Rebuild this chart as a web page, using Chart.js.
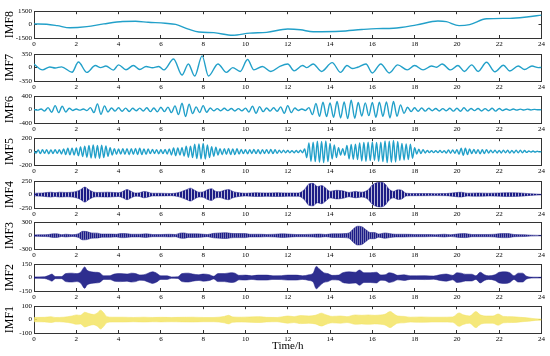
<!DOCTYPE html>
<html>
<head>
<meta charset="utf-8">
<script src="https://cdn.jsdelivr.net/npm/chart.js@4.4.0/dist/chart.umd.min.js"></script>
<style>
  body { margin: 0; background: #fff; }
  #wrap { position: relative; width: 550px; height: 356px; }
  #wrap canvas { position: absolute; left: 0; }
</style>
</head>
<body>
<div id="wrap"></div>
<script>
// --- data ---
const hourTicks = [0, 2, 4, 6, 8, 10, 12, 14, 16, 18, 20, 22, 24];
const panelNames = ["IMF8", "IMF7", "IMF6", "IMF5", "IMF4", "IMF3", "IMF2", "IMF1"];
const panelLimits = [1500, 350, 400, 200, 250, 300, 150, 100];

// IMF8: slow trend (time h, value)
const imf8T = [0, 0.6, 1.1, 1.7, 2.5, 3.3, 4.2, 4.8, 5.4, 6.2, 6.7, 7.3, 7.8, 8.5, 9.4, 10.2, 11, 12, 12.6, 13.2,
  14.5, 15.5, 16.2, 17, 18.1, 19.1, 19.5, 20.1, 20.6, 21.4, 22.5, 23.3, 24];
const imf8V = [80, 40, -120, -360, -230, 80, 350, 370, 260, 150, 20, -500, -830, -900, -1200, -950, -870, -500, -580, -800,
  -750, -550, -450, -410, -30, 400, 330, -110, 0, 650, 700, 850, 1060];

// IMF7: peaks and troughs (time h, value)
const imf7T = [0, 0.4, 0.75, 1.0, 1.3, 1.8, 2.1, 2.5, 2.9, 3.15, 3.4, 3.75, 4.0, 4.35, 4.7, 5.0, 5.3, 5.6, 5.9, 6.15,
  6.6, 7.0, 7.3, 7.6, 7.95, 8.25, 8.7, 9.1, 9.4, 9.75, 10.1, 10.4, 10.8, 11.2, 11.65, 12.0, 12.3, 12.7, 12.9, 13.2,
  13.6, 14.1, 14.5, 14.8, 15.05, 15.3, 15.7, 16.0, 16.4, 16.8, 17.2, 17.65, 18.0, 18.4, 18.8, 19.05, 19.3, 19.7, 20.05, 20.35,
  20.7, 21.0, 21.4, 21.8, 22.2, 22.5, 22.9, 23.2, 23.55, 23.85, 24];
const imf7V = [90, -60, 15, -10, 20, -120, 145, -125, 55, 0, 40, -65, 70, -55, 55, -50, 30, -5, 30, -60,
  225, -195, 95, -220, 305, -220, 95, -125, 0, -100, 210, -60, 30, -100, 40, 95, -85, 55, 0, 95,
  -100, 130, -125, 55, -25, 10, 95, -140, 95, -140, 70, -60, 55, -60, 40, 10, 95, -60, 55, -100,
  70, -100, 140, -110, 60, -90, 40, -50, 40, 0, 5];

// IMF6: successive extremes, evenly spaced over 0..24 h
const imf6V = [
  0, -15, 20, -40, 60, -80, 120, -90, 100, -70, 40, -25,
  20, -15, 20, -30, 60, -90, 170, -140, 110, -70, 50, -45,
  55, -50, 45, -55, 40, -35, 45, -40, 55, -60, 50, -65,
  70, -60, 75, -90, 110, -150, 190, -210, 160, -120, 80, -90,
  120, -80, 50, -35, 30, -35, 40, -30, 35, -40, 30, -35,
  45, -70, 100, -110, 90, -60, 50, -45, 55, -50, 80, -110,
  120, -90, 50, -25, 20, -25, 60, -150, 180, -200, 220, -210,
  200, -230, 240, -250, 230, -270, 280, -260, 210, -190, 200, -180,
  210, -230, 220, -200, 230, -250, 240, -200, 140, -110, 70, -60,
  55, -50, 50, -45, 40, -35, 35, -40, 30, -35, 40, -45,
  40, -50, 55, -45, 35, -30, 35, -40, 30, -35, 40, -45,
  35, -25, 20, -20, 18, -15, 15, -12, 14, -10, 8, -6,
  0];

// IMF5: successive extremes, evenly spaced over 0..24 h
const imf5V = [
  0, -20, 25, -30, 28, -25, 30, -32, 26, -28,
  30, -25, 28, -35, 40, -45, 50, -48, 52, -50,
  55, -60, 70, -75, 80, -85, 90, -95, 100, -95,
  90, -100, 95, -90, 85, -70, 60, -50, 45, -40,
  40, -38, 42, -40, 45, -48, 45, -42, 48, -45,
  50, -45, 40, -42, 38, -30, 32, -28, 30, -32,
  28, -30, 32, -35, 40, -50, 55, -60, 55, -50,
  60, -65, 80, -85, 80, -90, 110, -105, 115, -110,
  120, -110, 100, -90, 75, -70, 65, -50, 45, -48,
  45, -42, 48, -45, 40, -45, 42, -38, 32, -30,
  28, -32, 30, -28, 32, -30, 28, -32, 30, -28,
  30, -28, 32, -30, 28, -26, 22, -18, 20, -18,
  16, -18, 15, -17, 18, -16, 20, -18, 40, -90,
  130, -145, 140, -150, 155, -160, 150, -165, 160, -150,
  120, -110, 100, -90, 60, -50, 45, -55, 90, -110,
  105, -115, 110, -120, 130, -140, 135, -145, 140, -135,
  140, -130, 135, -145, 140, -150, 160, -165, 155, -160,
  165, -155, 150, -130, 120, -125, 115, -120, 110, -100,
  60, -35, 35, -30, 30, -20, 18, -15, 15, -16,
  14, -15, 16, -14, 15, -22, 25, -24, 26, -25,
  30, -40, 50, -55, 50, -45, 40, -30, 32, -28,
  30, -32, 28, -30, 30, -22, 20, -18, 22, -20,
  18, -20, 22, -18, 20, -22, 18, -20, 22, -18,
  20, -18, 16, -12, 10, -8, 8, -7, 6, -4,
  0];

// IMF4..IMF1: too dense to resolve, read as envelope (time h, +/- amplitude)
const imf4T = [0, 0.4, 0.8, 1.0, 1.2, 1.5, 1.8, 2.0, 2.2, 2.4, 2.6, 2.8, 3.0, 3.5, 4.0, 4.2, 4.4, 4.6, 4.8, 5.0,
  5.2, 5.4, 5.6, 6.0, 6.5, 6.8, 7.0, 7.2, 7.4, 7.6, 7.8, 8.0, 8.2, 8.4, 8.6, 8.8, 9.0, 9.2, 9.4, 9.6,
  10, 10.5, 11, 11.5, 12, 12.5, 12.8, 13.0, 13.2, 13.4, 13.6, 13.8, 14.0, 14.3, 14.6, 14.9, 15.2, 15.5, 15.8, 16.0,
  16.2, 16.4, 16.6, 16.8, 17.0, 17.2, 17.4, 17.6, 18, 18.5, 19, 19.5, 20, 20.2, 20.5, 21, 21.5, 22, 22.5, 23, 23.5, 24];
const imf4A = [25, 30, 45, 35, 45, 40, 45, 60, 90, 140, 90, 50, 40, 45, 35, 60, 95, 60, 30, 35,
  60, 45, 25, 25, 20, 35, 60, 90, 120, 80, 45, 50, 90, 110, 60, 55, 80, 95, 60, 40,
  25, 35, 30, 35, 30, 30, 100, 200, 210, 150, 170, 120, 60, 80, 70, 40, 60, 45, 90, 180,
  220, 230, 200, 100, 60, 90, 80, 25, 20, 20, 18, 20, 40, 45, 25, 30, 25, 30, 35, 30, 15, 5];

const imf3T = [0, 0.4, 0.7, 0.9, 1.1, 1.3, 1.5, 1.8, 2.1, 2.3, 2.5, 2.7, 3.0, 3.2, 3.6, 3.9, 4.1, 4.3, 4.6, 5.0,
  5.3, 5.6, 6.0, 6.4, 6.7, 6.9, 7.1, 7.3, 7.6, 7.9, 8.2, 8.5, 8.8, 9.1, 9.3, 9.6, 10.0, 10.2, 10.7, 11.0,
  11.4, 11.7, 12.0, 12.4, 12.8, 13.2, 13.5, 13.8, 14.1, 14.4, 14.7, 14.9, 15.1, 15.3, 15.5, 15.7, 15.9, 16.1, 16.3, 16.6,
  16.8, 17.1, 17.5, 18.0, 18.5, 19.0, 19.4, 19.7, 20.1, 20.4, 20.7, 21.1, 21.5, 21.8, 22.1, 22.4, 22.7, 23.2, 23.5, 24];
const imf3A = [15, 20, 25, 40, 40, 20, 30, 20, 40, 95, 90, 60, 55, 35, 35, 30, 45, 45, 30, 30,
  40, 25, 25, 30, 25, 55, 60, 40, 40, 35, 25, 50, 60, 65, 50, 45, 45, 30, 30, 25,
  30, 40, 35, 25, 25, 30, 35, 25, 40, 40, 45, 60, 150, 210, 200, 130, 70, 70, 35, 60,
  45, 30, 30, 25, 25, 20, 30, 20, 40, 45, 25, 25, 25, 30, 45, 45, 25, 20, 10, 5];

const imf2T = [0, 0.5, 0.7, 0.85, 1.0, 1.3, 1.5, 1.8, 2.0, 2.2, 2.4, 2.5, 2.7, 2.9, 3.1, 3.3, 3.6, 3.8, 4.1, 4.4,
  4.6, 4.8, 5.0, 5.2, 5.4, 5.6, 5.8, 6.0, 6.3, 6.5, 6.8, 7.0, 7.3, 7.5, 7.8, 8.0, 8.3, 8.5, 8.7, 9.0,
  9.3, 9.5, 9.7, 10.0, 10.3, 10.6, 11.0, 11.3, 11.7, 12.0, 12.4, 12.7, 13.0, 13.2, 13.35, 13.5, 13.7, 13.9, 14.1, 14.4,
  14.6, 14.9, 15.2, 15.4, 15.6, 15.9, 16.2, 16.4, 16.6, 16.8, 17.0, 17.2, 17.5, 17.8, 18.1, 18.5, 18.9, 19.2, 19.5, 19.8,
  20.0, 20.2, 20.4, 20.7, 20.9, 21.1, 21.3, 21.5, 21.8, 22.0, 22.3, 22.5, 22.7, 22.9, 23.1, 23.3, 23.6, 24];
const imf2A = [8, 10, 25, 40, 12, 12, 45, 50, 45, 60, 120, 85, 65, 60, 55, 20, 22, 40, 45, 40,
  50, 45, 30, 32, 50, 65, 50, 20, 20, 8, 10, 45, 50, 40, 32, 40, 32, 15, 45, 45,
  55, 50, 25, 28, 20, 28, 28, 20, 22, 28, 28, 20, 32, 50, 125, 95, 55, 45, 25, 28,
  55, 65, 60, 85, 55, 55, 60, 30, 32, 55, 45, 25, 32, 20, 20, 22, 18, 32, 40, 25,
  55, 50, 38, 38, 20, 60, 32, 20, 32, 60, 65, 55, 20, 50, 50, 15, 5, 4];

const imf1T = [0, 0.5, 0.8, 1.0, 1.4, 1.8, 2.0, 2.2, 2.4, 2.6, 2.8, 3.0, 3.15, 3.3, 3.45, 3.7, 4.2, 4.7, 5.2, 5.6,
  6.0, 6.5, 7.0, 7.5, 8.0, 8.5, 9.0, 9.2, 9.4, 9.8, 10.2, 10.7, 11.0, 11.5, 12.0, 12.3, 12.6, 13.0, 13.3, 13.6,
  13.8, 14.1, 14.5, 14.8, 15.2, 15.5, 15.8, 16.1, 16.4, 16.6, 16.85, 17.0, 17.2, 17.5, 17.8, 18.3, 18.8, 19.3, 19.8, 20.1,
  20.3, 20.6, 20.9, 21.1, 21.4, 21.7, 21.95, 22.2, 22.6, 23.0, 23.4, 23.7, 24];
const imf1A = [16, 17, 22, 16, 18, 27, 35, 32, 55, 45, 38, 50, 70, 50, 22, 18, 18, 16, 18, 16,
  17, 16, 17, 18, 16, 16, 24, 32, 20, 18, 20, 22, 17, 16, 27, 22, 30, 27, 32, 48,
  36, 24, 27, 22, 35, 32, 35, 32, 35, 40, 60, 45, 27, 24, 18, 20, 18, 18, 20, 50,
  36, 27, 60, 36, 27, 27, 42, 24, 22, 17, 12, 6, 4];

// --- layout ---
const tops = [7, 50, 92, 134, 177, 218, 260, 302];
const plotH = 31;
const serif = "'Liberation Serif', 'Times New Roman', serif";
const cyan = "#22a0c9";
const navy = "#1c1c86";
const yellow = "#f1e05c";

// vertical hatch, stands in for carrier oscillations too fine to draw one by one
function stripes(cols) {
  const c = document.createElement("canvas");
  c.width = cols.length;
  c.height = 1;
  const g = c.getContext("2d");
  cols.forEach((col, i) => { g.fillStyle = col; g.fillRect(i, 0, 1, 1); });
  return g.createPattern(c, "repeat");
}

function pts(t, v) {
  return t.map((x, i) => ({ x: x, y: v[i] }));
}
function even(v) {
  const step = 24 / (v.length - 1);
  return v.map((y, i) => ({ x: i * step, y: y }));
}
function lineSet(data) {
  return { data: data, borderColor: cyan, borderWidth: 1.4, cubicInterpolationMode: "monotone", fill: false };
}
function bandSets(t, a, color, fillColor) {
  return [
    { data: pts(t, a), borderColor: color, borderWidth: 0.5, cubicInterpolationMode: "monotone", backgroundColor: fillColor, fill: "+1" },
    { data: pts(t, a.map(x => -x)), borderColor: color, borderWidth: 0.5, cubicInterpolationMode: "monotone", fill: false }
  ];
}

const panelSets = [
  [lineSet(pts(imf8T, imf8V))],
  [lineSet(pts(imf7T, imf7V))],
  [lineSet(even(imf6V))],
  [lineSet(even(imf5V))],
  bandSets(imf4T, imf4A, navy, stripes([navy, navy, "rgba(28,28,134,0.3)"])),
  bandSets(imf3T, imf3A, navy, stripes([navy, "rgba(28,28,134,0.6)"])),
  bandSets(imf2T, imf2A, navy, "rgba(28,28,134,0.92)"),
  bandSets(imf1T, imf1A, yellow, "rgba(243,228,100,0.85)")
];

const frame = { color: "#333", width: 1 };
const tickGrid = { drawOnChartArea: false, tickLength: -3, color: "#333" };
const tickFont = { family: serif, size: 7 };

const wrap = document.getElementById("wrap");

panelNames.forEach((name, i) => {
  const last = i === panelNames.length - 1;
  const lim = panelLimits[i];
  const axisH = last ? 20 : 12;
  const cv = document.createElement("canvas");
  cv.width = 550;
  cv.height = 5 + plotH + axisH;
  cv.style.top = (tops[i] - 5) + "px";
  wrap.appendChild(cv);

  const yTicks = s => { s.ticks = [{ value: -lim }, { value: 0 }, { value: lim }]; };
  const xTicks = s => { s.ticks = hourTicks.map(h => ({ value: h })); };

  new Chart(cv, {
    type: "line",
    data: { datasets: panelSets[i] },
    options: {
      animation: false,
      responsive: false,
      events: [],
      layout: { padding: { top: 5, right: 8, left: 0, bottom: 0 } },
      elements: { point: { radius: 0 } },
      plugins: { legend: { display: false }, tooltip: { enabled: false } },
      scales: {
        x: {
          type: "linear", position: "bottom", min: 0, max: 24,
          afterBuildTicks: xTicks,
          ticks: { font: tickFont, color: "#000", padding: 5, maxRotation: 0, autoSkip: false, callback: v => String(v) },
          grid: tickGrid, border: frame,
          title: { display: last, text: "Time/h", color: "#000", font: { family: serif, size: 11 }, padding: 0 },
          afterFit: s => { s.height = axisH; }
        },
        x2: {
          type: "linear", position: "top", min: 0, max: 24,
          afterBuildTicks: xTicks,
          ticks: { display: false },
          grid: tickGrid, border: frame,
          afterFit: s => { s.height = 0; }
        },
        y: {
          type: "linear", position: "left", min: -lim, max: lim,
          afterBuildTicks: yTicks,
          ticks: { font: tickFont, color: "#000", padding: 5, callback: v => String(v) },
          grid: tickGrid, border: frame,
          title: { display: true, text: name, color: "#000", font: { family: serif, size: 12 }, padding: { top: 3, bottom: 0 } },
          afterFit: s => { s.width = 34; }
        },
        y2: {
          type: "linear", position: "right", min: -lim, max: lim,
          afterBuildTicks: yTicks,
          ticks: { display: false },
          grid: tickGrid, border: frame,
          afterFit: s => { s.width = 0; }
        }
      }
    }
  });
});
</script>
</body>
</html>
